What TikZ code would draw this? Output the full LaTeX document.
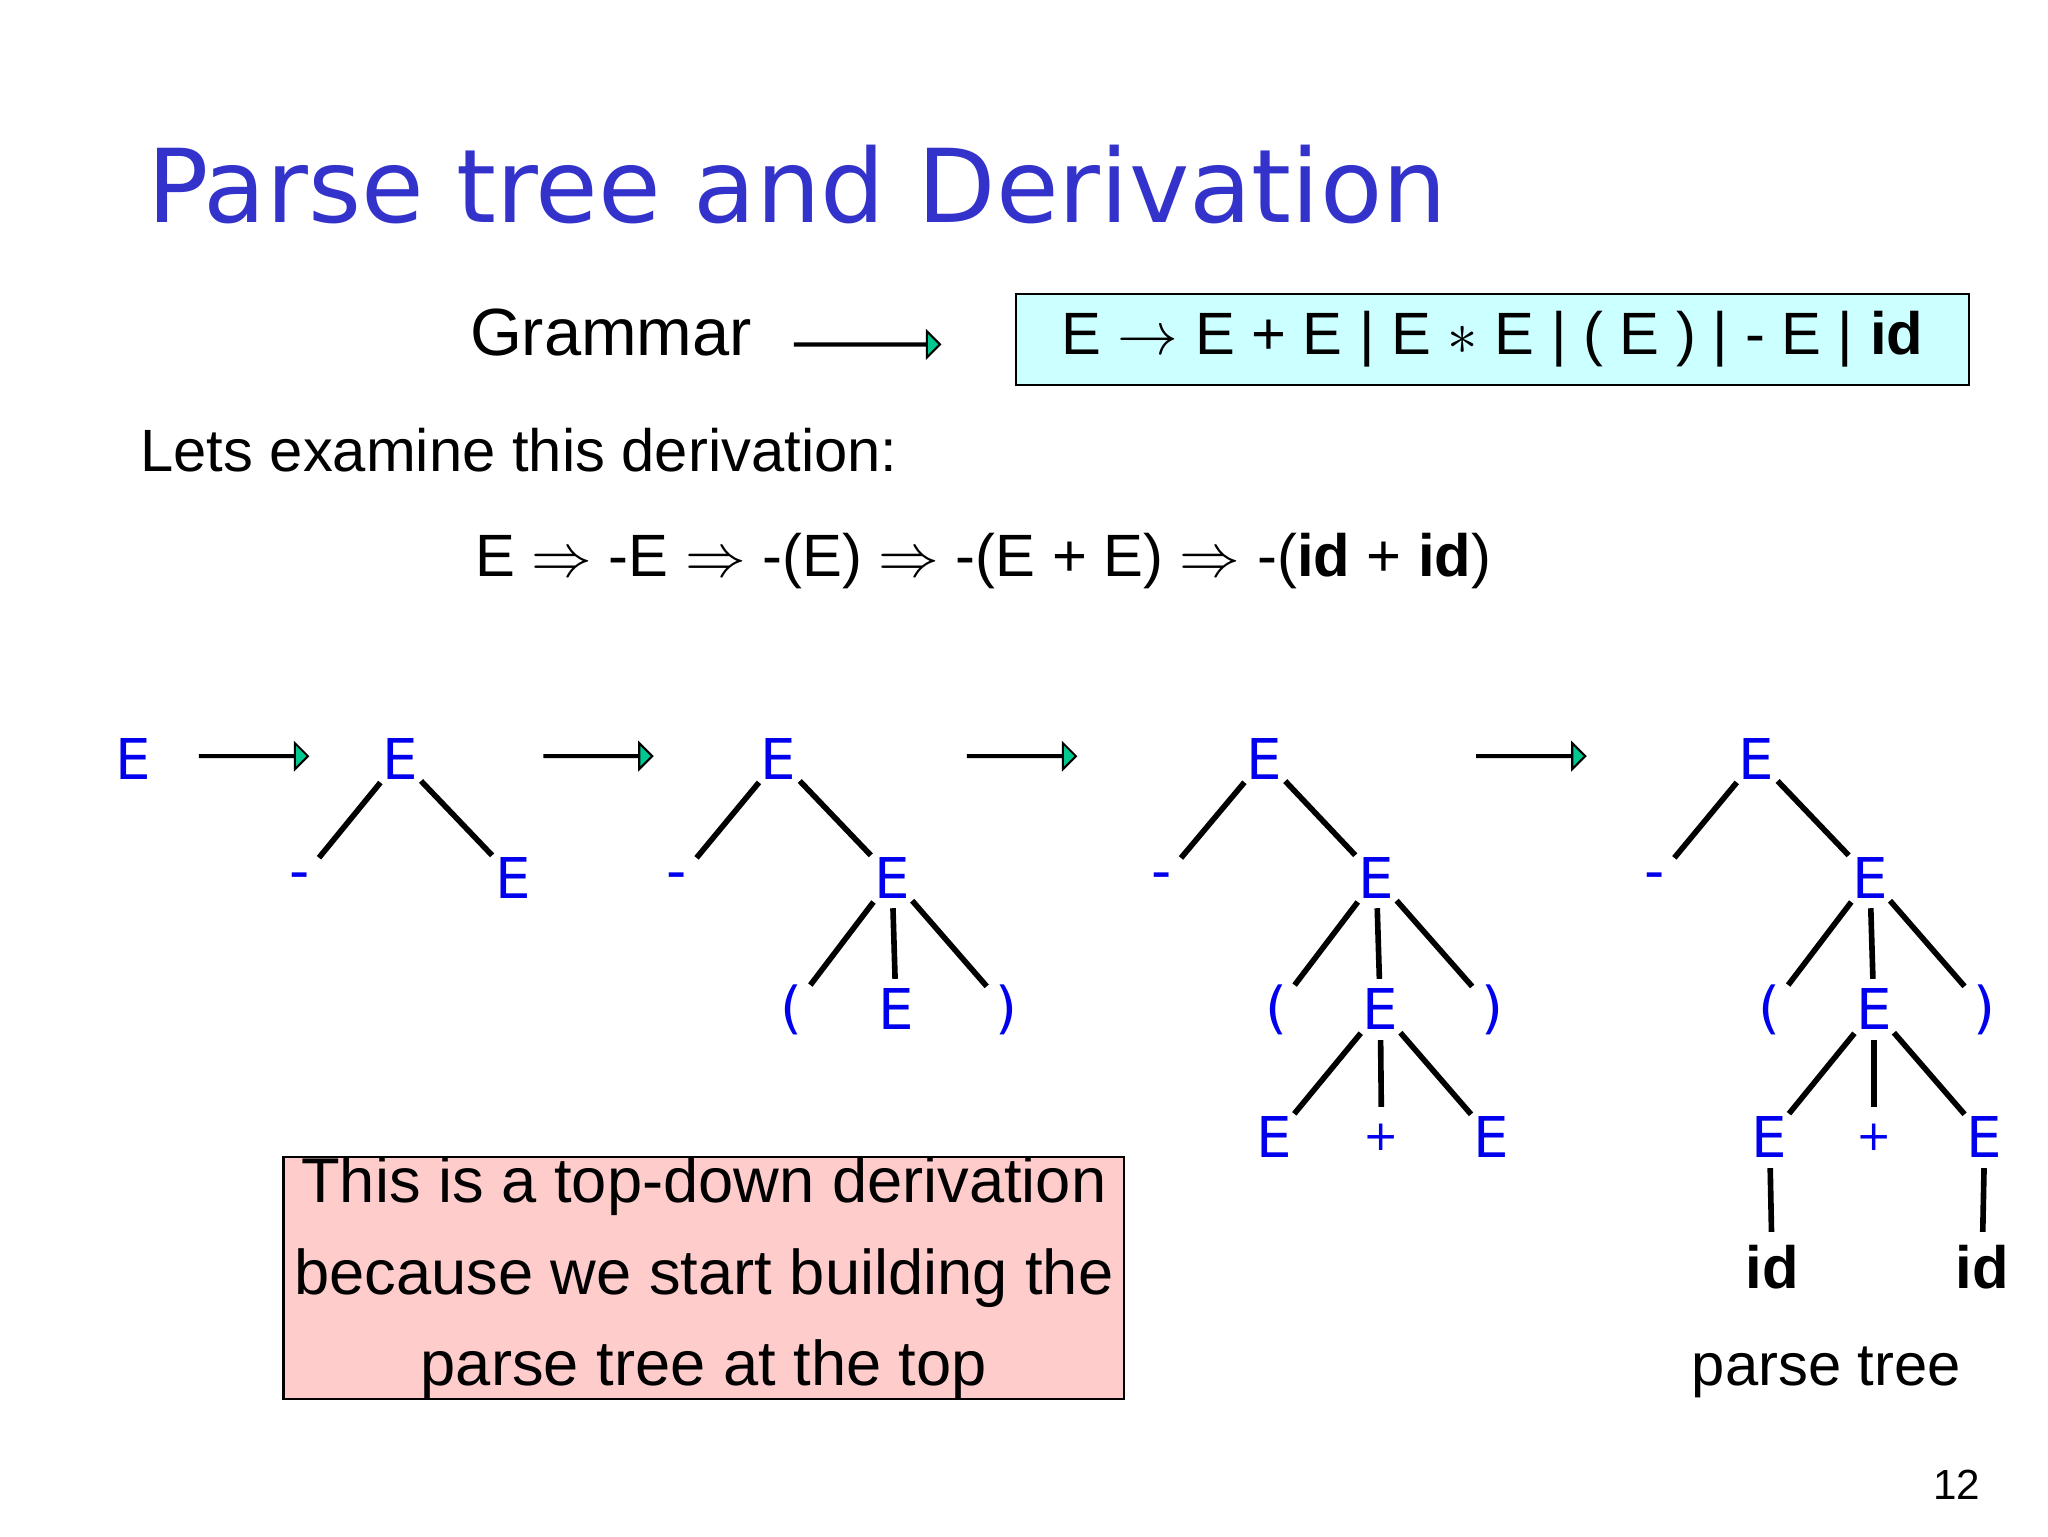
\documentclass[tikz,border=0pt]{standalone}
\usepackage{fontspec}
\setmainfont{Liberation Sans}
\newfontfamily\dvs{DejaVu Sans}
\usetikzlibrary{shapes.arrows}
\definecolor{ttl}{HTML}{3333CC}
\definecolor{grn}{HTML}{00C890}
\definecolor{tb}{HTML}{0000EE}
\definecolor{cy}{HTML}{CCFFFF}
\definecolor{pk}{HTML}{FFCCCC}
\begin{document}
\begin{tikzpicture}[x=0.013196cm,y=-0.013196cm,
  tn/.style={text=tb,font=\dvs\fontsize{16}{19}\selectfont,circle,minimum size=0.6cm,inner sep=0},
  tl/.style={black,line width=1.6pt},
  garrow/.style={single arrow,draw=black,fill=grn,minimum width=0.22cm,single arrow head extend=0.12cm,minimum height=1.08cm,inner sep=0,line width=0.6pt},
  txt/.style={font=\fontsize{17}{20}\selectfont}]
\useasboundingbox (0,0) rectangle (1552,1164);
\node[anchor=west,text=ttl,font=\dvs\fontsize{29}{33}\selectfont] (title) at (102,140) {Parse tree and Derivation};
\node[txt,font=\fontsize{19}{22}\selectfont] (gram) at (463,252) {Grammar};
\node[garrow,minimum height=1.45cm] (ga) at (657,261) {};
\node[draw,fill=cy,minimum width=9.53cm,minimum height=0.91cm,anchor=north west,inner sep=0,txt,line width=0.6pt] (gbox) at (769,222) {E $\rightarrow$ E + E | E $\ast$ E | ( E ) | - E | \textbf{id}};
\node[txt,anchor=west] (lets) at (97,341) {Lets examine this derivation:};
\node[txt] (der) at (745,425) {E $\Rightarrow$ -E $\Rightarrow$ -(E) $\Rightarrow$ -(E + E) $\Rightarrow$ -(\textbf{id} + \textbf{id})};
% arrows
\node[garrow] (a1) at (192,573) {};
\node[garrow] (a2) at (453,573) {};
\node[garrow] (a3) at (774,573) {};
\node[garrow] (a4) at (1160,573) {};
% tree0
\node[tn] (t0) at (101,575) {E};
% tree1
\node[tn] (t1) at (303,575) {E};
\node[tn] (t1m) at (227,668) {-};
\node[tn] (t1e) at (389,665) {E};
\draw[tl] (t1)--(t1m); \draw[tl] (t1)--(t1e);
% tree2
\node[tn] (t2) at (590,575) {E};
\node[tn] (t2m) at (513,668) {-};
\node[tn] (t2e) at (676,665) {E};
\node[tn] (t2a) at (600,765) {(};
\node[tn] (t2b) at (679,765) {E};
\node[tn] (t2c) at (763,765) {)};
\draw[tl] (t2)--(t2m); \draw[tl] (t2)--(t2e);
\draw[tl] (t2e)--(t2a); \draw[tl] (t2e)--(t2b); \draw[tl] (t2e)--(t2c);
% tree3
\node[tn] (t3) at (958,575) {E};
\node[tn] (t3m) at (880,668) {-};
\node[tn] (t3e) at (1043,665) {E};
\node[tn] (t3a) at (967,765) {(};
\node[tn] (t3b) at (1046,765) {E};
\node[tn] (t3c) at (1131,765) {)};
\node[tn] (t3d) at (966,862) {E};
\node[tn,font=\dvs\fontsize{12}{14}\selectfont] (t3p) at (1047,862) {+};
\node[tn] (t3f) at (1130,862) {E};
\draw[tl] (t3)--(t3m); \draw[tl] (t3)--(t3e);
\draw[tl] (t3e)--(t3a); \draw[tl] (t3e)--(t3b); \draw[tl] (t3e)--(t3c);
\draw[tl] (t3b)--(t3d); \draw[tl] (t3b)--(t3p); \draw[tl] (t3b)--(t3f);
% tree4
\node[tn] (t4) at (1331,575) {E};
\node[tn] (t4m) at (1254,668) {-};
\node[tn] (t4e) at (1417,665) {E};
\node[tn] (t4a) at (1341,765) {(};
\node[tn] (t4b) at (1420,765) {E};
\node[tn] (t4c) at (1504,765) {)};
\node[tn] (t4d) at (1341,862) {E};
\node[tn,font=\dvs\fontsize{12}{14}\selectfont] (t4p) at (1420,862) {+};
\node[tn] (t4f) at (1504,862) {E};
\node[tn,text=black,font=\bfseries\fontsize{17}{19}\selectfont] (t4i) at (1343,960) {id};
\node[tn,text=black,font=\bfseries\fontsize{17}{19}\selectfont] (t4j) at (1502,960) {id};
\draw[tl] (t4)--(t4m); \draw[tl] (t4)--(t4e);
\draw[tl] (t4e)--(t4a); \draw[tl] (t4e)--(t4b); \draw[tl] (t4e)--(t4c);
\draw[tl] (t4b)--(t4d); \draw[tl] (t4b)--(t4p); \draw[tl] (t4b)--(t4f);
\draw[tl] (t4d)--(t4i); \draw[tl] (t4f)--(t4j);
\node[txt] (pt) at (1384,1040) {parse tree};
\node[draw,fill=pk,anchor=north west,minimum width=8.41cm,minimum height=2.28cm,inner sep=0,txt,align=center,line width=0.6pt,font=\fontsize{18}{26}\selectfont] (pink) at (214,876) {This is a top-down derivation\\because we start building the\\parse tree at the top};
\node[font=\fontsize{12}{14}\selectfont] (pg) at (1483,1125) {12};
\end{tikzpicture}
\end{document}
